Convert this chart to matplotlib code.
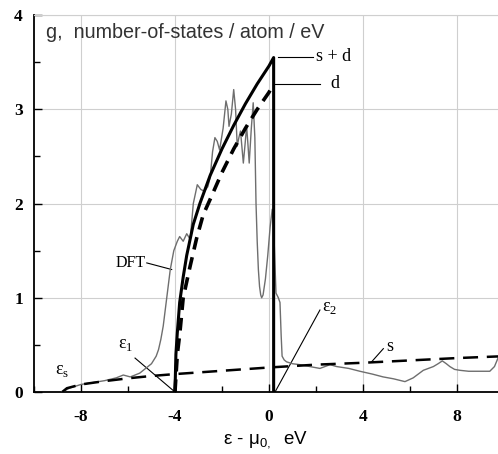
import matplotlib.pyplot as plt

plt.rcParams['axes.unicode_minus'] = False

# s-band model curve (dashed)
s_x = [-8.8, -8.6, -8.3, -8.0, -7.0, -6.0, -5.0, -4.0, -2.0, 0.0, 2.0, 4.0, 6.0, 8.0, 10.0]
s_y = [0.0, 0.04, 0.06, 0.08, 0.115, 0.145, 0.17, 0.19, 0.225, 0.26, 0.29, 0.31, 0.335, 0.36, 0.38]

# d-band model curve (dashed)
d_x = [-4.0, -3.9, -3.79, -3.65, -3.36, -3.08, -2.8, -2.44, -2.0, -1.5, -1.0, -0.5, 0.0, 0.2]
d_y = [0.0, 0.4, 0.63, 1.0, 1.33, 1.63, 1.88, 2.08, 2.33, 2.58, 2.8, 3.0, 3.18, 3.27]

# s + d (solid)
sd_x = [-4.0, -3.96, -3.9, -3.8, -3.65, -3.5, -3.22, -2.94, -2.5, -2.0, -1.5, -1.0, -0.5, 0.0, 0.2, 0.2]
sd_y = [0.0, 0.4, 0.63, 0.95, 1.22, 1.45, 1.78, 2.0, 2.3, 2.58, 2.83, 3.06, 3.27, 3.46, 3.55, 0.0]

# DFT density of states (thin gray)
dft_x = [-8.8, -8.5, -8.0, -7.5, -7.0, -6.5, -6.2, -5.9, -5.5, -5.2, -5.0, -4.8, -4.7, -4.6,
         -4.5, -4.35, -4.2, -4.05, -3.9, -3.8, -3.65, -3.5, -3.35, -3.22, -3.05, -2.9, -2.75,
         -2.6, -2.5, -2.4, -2.3, -2.2, -2.1, -1.95, -1.83, -1.75, -1.7, -1.6, -1.5, -1.42,
         -1.35, -1.28, -1.21, -1.15, -1.09, -1.02, -0.95, -0.9, -0.84, -0.75, -0.67, -0.6,
         -0.55, -0.5, -0.45, -0.4, -0.35, -0.31, -0.25, -0.15, -0.05, 0.05, 0.14, 0.2, 0.25,
         0.3, 0.4, 0.47, 0.52, 0.56, 0.65, 0.75, 1.0, 1.32, 1.74, 2.17, 2.6, 2.88, 3.4,
         3.87, 4.4, 4.86, 5.3, 5.79, 6.14, 6.57, 7.0, 7.2, 7.38, 7.55, 7.7, 7.9, 8.13, 8.5,
         8.84, 9.2, 9.4, 9.6, 9.75]
dft_y = [0.0, 0.04, 0.08, 0.1, 0.12, 0.15, 0.18, 0.16, 0.2, 0.26, 0.3, 0.38, 0.45, 0.56,
         0.7, 1.0, 1.3, 1.5, 1.6, 1.65, 1.6, 1.68, 1.62, 2.0, 2.2, 2.15, 2.13,
         2.18, 2.28, 2.55, 2.7, 2.66, 2.57, 2.8, 3.09, 3.0, 2.82, 2.95, 3.21, 3.0,
         2.61, 2.7, 2.77, 2.6, 2.43, 2.62, 2.82, 2.65, 2.43, 2.8, 3.07, 2.7,
         2.0, 1.6, 1.3, 1.12, 1.03, 1.0, 1.03, 1.2, 1.45, 1.75, 1.94, 1.75, 1.4,
         1.05, 1.0, 0.95, 0.6, 0.38, 0.34, 0.32, 0.3, 0.29, 0.27, 0.25, 0.29, 0.27, 0.25,
         0.22, 0.19, 0.16, 0.14, 0.11, 0.15, 0.23, 0.27, 0.3, 0.33, 0.3, 0.27, 0.24, 0.23, 0.22,
         0.22, 0.22, 0.22, 0.27, 0.36]

x_ticks = [-8, -4, 0, 4, 8]
y_ticks = [0, 1, 2, 3, 4]

fig = plt.figure(figsize=(4.98, 4.54), dpi=100)
ax = fig.add_axes([0.0683, 0.1366, 0.9317, 0.830])

serif = 'Liberation Serif'
sans = 'Liberation Sans'

ax.plot(dft_x, dft_y, color='#6e6e6e', lw=1.0, zorder=3)
ax.plot(s_x, s_y, color='black', lw=1.8, dashes=(6, 3.5), zorder=4)
ax.plot(d_x, d_y, color='black', lw=2.6, dashes=(3.5, 2.2), zorder=4)
ax.plot(sd_x, sd_y, color='black', lw=2.2, zorder=5)

ax.set_xlim(-10, 9.75)
ax.set_ylim(0, 4)
ax.set_xticks(x_ticks)
ax.set_yticks(y_ticks)
ax.set_xticks([-10, -6, -2, 2, 6], minor=True)
ax.set_yticks([0.5, 1.5, 2.5, 3.5], minor=True)
ax.grid(True, which='major', color='#cfcfcf', lw=0.8)
ax.set_axisbelow(True)

ax.tick_params(which='both', direction='in', color='black')
ax.tick_params(which='major', length=6, width=1.0)
ax.tick_params(which='minor', length=4, width=1.0)
ax.tick_params(axis='x', pad=12)
ax.tick_params(axis='y', pad=8)
for lab in ax.get_xticklabels() + ax.get_yticklabels():
    lab.set_fontfamily(serif)
    lab.set_fontweight('bold')
    lab.set_fontsize(12.5)

ax.spines['right'].set_visible(False)
ax.spines['top'].set_color('#cfcfcf')
ax.spines['left'].set_linewidth(1.3)
ax.spines['bottom'].set_linewidth(1.3)

ax.set_xlabel('ε - μ$_\\mathregular{0,}$  eV', fontfamily=sans, fontsize=13.5, labelpad=4)

ax.text(-9.5, 3.92, 'g,  number-of-states / atom / eV', fontfamily=sans, fontsize=14.2,
        color='#333333', va='top', ha='left')

# annotations
ax.plot([0.38, 1.87], [3.56, 3.56], color='black', lw=0.8)
ax.text(2.0, 3.56, 's + d', fontfamily=serif, fontsize=13, va='center', ha='left')
ax.plot([0.26, 2.17], [3.27, 3.27], color='black', lw=0.8)
ax.text(2.6, 3.27, 'd', fontfamily=serif, fontsize=13, va='center', ha='left')
ax.plot([-5.2, -4.14], [1.37, 1.30], color='black', lw=0.8)
ax.text(-5.25, 1.37, 'DFT', fontfamily=serif, fontsize=11.5, va='center', ha='right')
ax.plot([-5.7, -4.0], [0.36, 0.0], color='black', lw=0.8)
ax.text(-6.1, 0.5, 'ε$_\\mathregular{1}$', fontfamily=serif, fontsize=13, va='center', ha='center')
ax.text(-8.8, 0.23, 'ε$_\\mathregular{s}$', fontfamily=serif, fontsize=13, va='center', ha='center')
ax.plot([2.17, 0.26], [0.87, 0.0], color='black', lw=0.8)
ax.text(2.6, 0.9, 'ε$_\\mathregular{2}$', fontfamily=serif, fontsize=13, va='center', ha='center')
ax.plot([4.87, 4.37], [0.46, 0.32], color='black', lw=0.8)
ax.text(5.0, 0.48, 's', fontfamily=serif, fontsize=13, va='center', ha='left')

fig.savefig('out.png', dpi=100)
